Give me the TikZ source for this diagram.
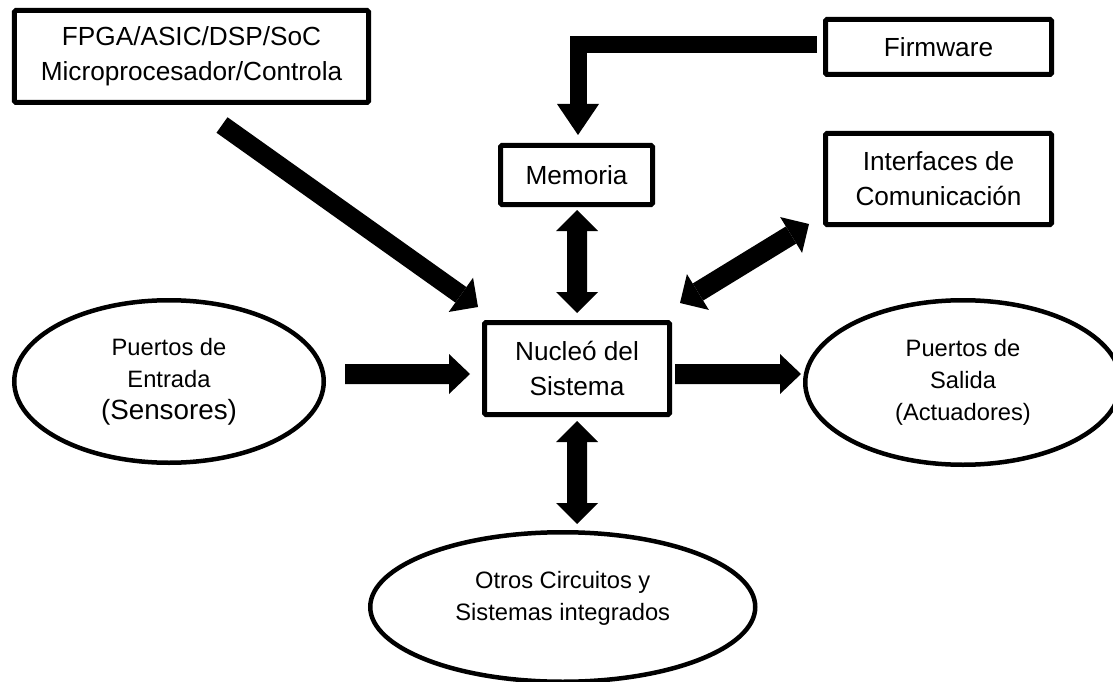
\documentclass[tikz,border=0pt]{standalone}
\usepackage{fontspec}
\setmainfont{Liberation Sans}
\usetikzlibrary{arrows.meta,shapes.geometric,calc}

\tikzset{
  blockbox/.style={draw, line width=5bp, rectangle, rounded corners=1.5bp,
    inner sep=0pt, align=center, font=\fontsize{26.2bp}{35bp}\selectfont},
  portoval/.style={draw, line width=4.5bp, ellipse, inner sep=0pt,
    align=center, font=\fontsize{23.7bp}{32bp}\selectfont},
  flow/.style={line width=20bp, -{Triangle[length=21bp,width=40bp,line width=0pt]}},
  dflow/.style={line width=20bp,
    {Triangle[length=21bp,width=42bp,line width=0pt]}-{Triangle[length=21bp,width=42bp,line width=0pt]}},
}

\begin{document}
\begin{tikzpicture}[x=1bp,y=-1bp]
  \fill[white] (0,0) rectangle (1113,682);
  \useasboundingbox (0,0) rectangle (1113,682);

  % blocks
  \node[blockbox, minimum width=354bp, minimum height=92bp] (fpga) at (191.5,56.5)
    {FPGA/ASIC/DSP/SoC\\Microprocesador/Controla};
  \node[blockbox, minimum width=226bp, minimum height=55bp] (firmware) at (938.5,47) {Firmware};
  \node[blockbox, minimum width=152bp, minimum height=59bp] (memoria) at (576.5,175) {Memoria};
  \node[blockbox, minimum width=226bp, minimum height=91bp] (interfaces) at (938.5,179)
    {Interfaces de\\Comunicación};
  \node[blockbox, minimum width=185bp, minimum height=92bp] (nucleo) at (577,368.5)
    {Nucleó del\\Sistema};

  % ports
  \node[portoval, minimum width=309.5bp, minimum height=162.5bp] (entrada) at (169,381.5)
    {Puertos de\\Entrada\\{\fontsize{27.8bp}{32bp}\selectfont (Sensores)}};
  \node[portoval, minimum width=315.5bp, minimum height=164.5bp] (salida) at (963,382.5)
    {Puertos de\\Salida\\(Actuadores)};
  \node[portoval, minimum width=385bp, minimum height=149.5bp] (otros) at (562.75,607) {};
  \node[font=\fontsize{23.7bp}{32bp}\selectfont, align=center, inner sep=0pt] (otrostxt)
    at ($(otros.center)+(0,-9)$) {Otros Circuitos y\\Sistemas integrados};

  % connectors
  \draw[line width=17bp, -{Triangle[length=31bp,width=42bp,line width=0pt]}]
    ($(firmware.center)+(-121.5,-2)$) -| ($(memoria.center)+(1.5,-40)$);
  \draw[line width=19bp, -{Triangle[length=21bp,width=42bp,line width=0pt]}]
    ($(fpga.center)+(30.5,68.5)$) -- ($(nucleo.center)+(-99,-61.5)$);
  \draw[dflow] ($(memoria.center)+(0.5,35)$) -- ($(nucleo.center)+(0,-55.5)$);
  \draw[dflow] ($(nucleo.center)+(103,-65.5)$) -- ($(interfaces.center)+(-129.5,45)$);
  \draw[flow] ($(entrada.center)+(176,-7.5)$) -- ($(nucleo.center)+(-107,5.5)$);
  \draw[flow] ($(nucleo.center)+(98,5.5)$) -- ($(salida.center)+(-162,-8.5)$);
  \draw[dflow] ($(nucleo.center)+(0,52.5)$) -- ($(otros.center)+(14.25,-83)$);
\end{tikzpicture}
\end{document}
